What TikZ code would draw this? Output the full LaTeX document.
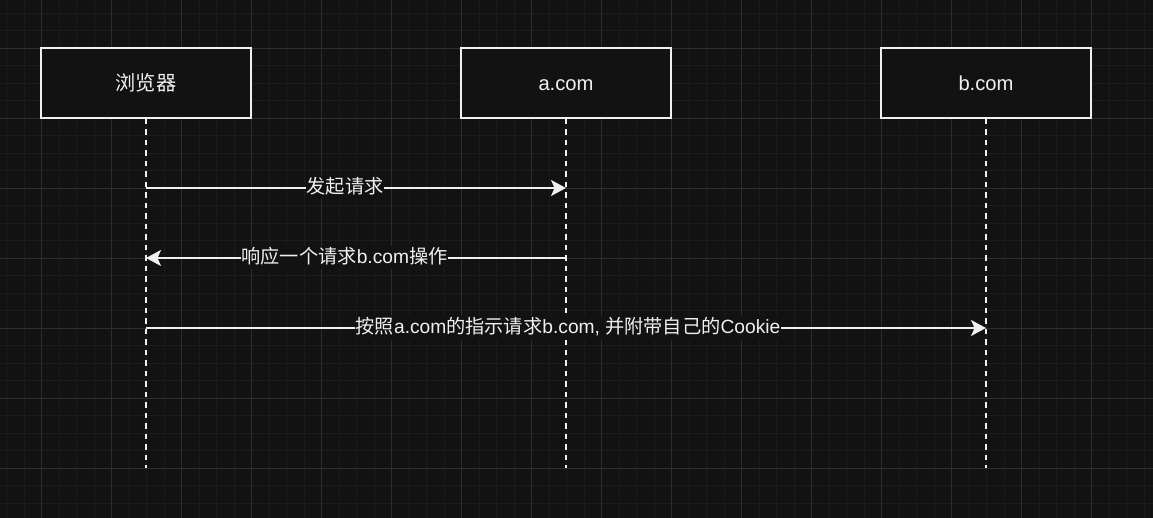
\documentclass[tikz,border=0pt]{standalone}
\usepackage{fontspec}
\setmainfont{Liberation Sans}
\newfontfamily\cjk{Noto Sans CJK SC}
\usetikzlibrary{arrows.meta}
\definecolor{bg}{HTML}{121212}
\definecolor{minorgrid}{HTML}{1C1C1C}
\definecolor{majorgrid}{HTML}{2D2D2D}
\definecolor{fg}{HTML}{F0F0F0}
\tikzset{
  actor/.style={draw=fg, fill=bg, line width=1.6pt, minimum width=210pt, minimum height=70pt, inner sep=0pt, text=fg, text height=20pt, text depth=4pt, font=\fontsize{20.2}{24}\selectfont},
  lifeline/.style={draw=fg, line width=1.6pt, dash pattern=on 5.25pt off 5.25pt},
  msg/.style={draw=fg, line width=1.6pt, -{Stealth[length=15pt,width=16pt,inset=3.5pt]}},
  msglabel/.style={fill=bg, text=fg, inner sep=0.5pt, text height=17pt, text depth=5pt, font=\fontsize{19.2}{23}\selectfont},
}
\begin{document}
\begin{tikzpicture}[x=1pt,y=-1pt]
\useasboundingbox (0,0) rectangle (1153,518);
\fill[bg] (0,0) rectangle (1153,518);
% minor grid
\foreach \i in {0,...,66} \draw[minorgrid, line width=0.8pt] (6.5+17.5*\i,0) -- (6.5+17.5*\i,518);
\foreach \j in {0,...,29} \draw[minorgrid, line width=0.8pt] (0,13.3+17.5*\j) -- (1153,13.3+17.5*\j);
% major grid
\foreach \i in {0,...,16} \draw[majorgrid, line width=0.8pt] (41.5+70*\i,0) -- (41.5+70*\i,518);
\foreach \j in {0,...,6} \draw[majorgrid, line width=0.8pt] (0,48.3+70*\j) -- (1153,48.3+70*\j);
% actors
\node[actor] (browser) at (146,83) {\cjk 浏览器};
\node[actor] (acom) at (566,83) {a.com};
\node[actor] (bcom) at (986,83) {b.com};
% lifeline ends
\coordinate (browserend) at (146,468);
\coordinate (acomend) at (566,468);
\coordinate (bcomend) at (986,468);
\draw[lifeline] (browser.south) -- (browserend);
\draw[lifeline] (acom.south) -- (acomend);
\draw[lifeline] (bcom.south) -- (bcomend);
% message points
\coordinate (m1s) at (146,188);
\coordinate (m1e) at (566,188);
\coordinate (m2s) at (566,258);
\coordinate (m2e) at (146,258);
\coordinate (m3s) at (146,328);
\coordinate (m3e) at (986,328);
\draw[msg] (m1s) -- (m1e);
\draw[msg] (m2s) -- (m2e);
\draw[msg] (m3s) -- (m3e);
\node[msglabel] (l1) at (345,188) {\cjk 发起请求};
\node[msglabel] (l2) at (344.5,258) {{\cjk 响应一个请求}b.com{\cjk 操作}};
\node[msglabel] (l3) at (568,328) {{\cjk 按照}a.com{\cjk 的指示请求}b.com, {\cjk 并附带自己的}Cookie};
\end{tikzpicture}
\end{document}
